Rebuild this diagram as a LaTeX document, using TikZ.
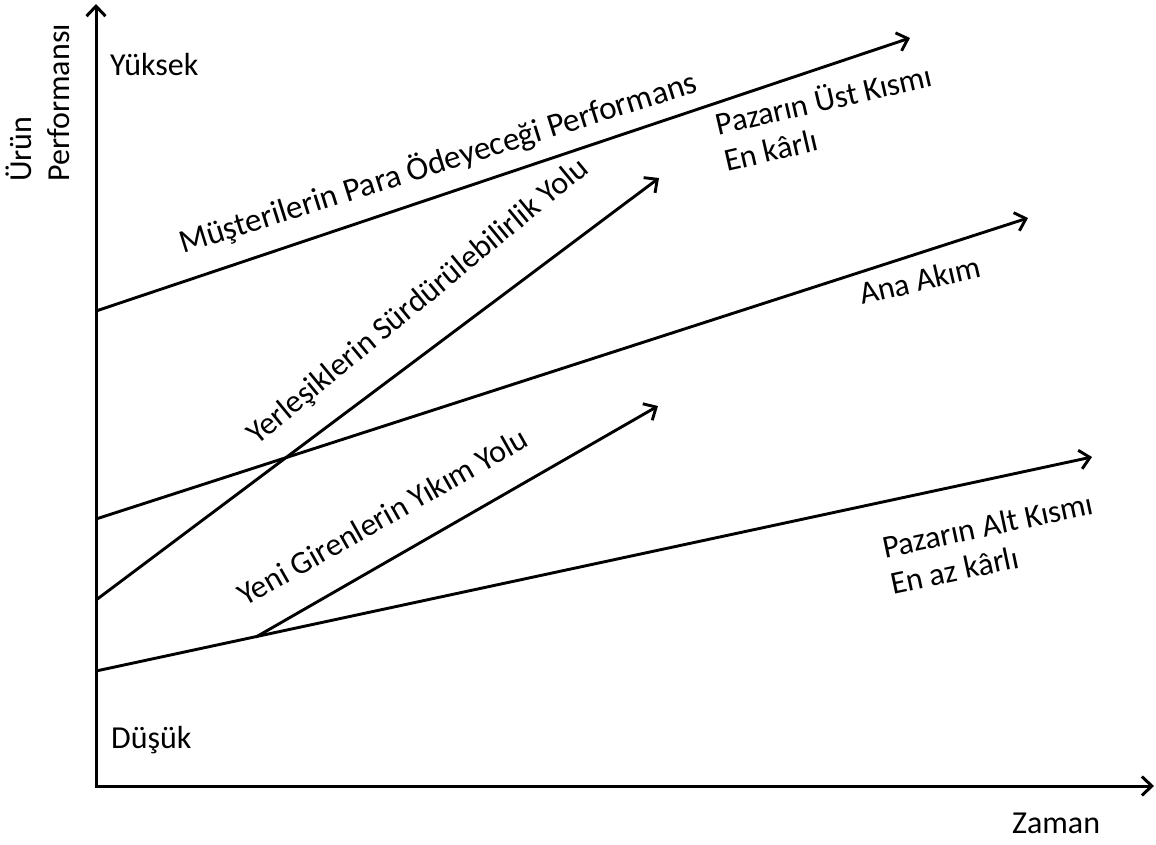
\documentclass[tikz,border=0pt]{standalone}
\usepackage{fontspec}
\setmainfont{Carlito}
\usetikzlibrary{arrows.meta}
\begin{document}
\begin{tikzpicture}[x=1pt,y=-1pt,
  axis/.style={line width=3pt,-{Straight Barb[length=10pt,width=19pt]}},
  trend/.style={line width=2.9pt,-{Straight Barb[length=10pt,width=19pt]}},
  lbl/.style={inner sep=0pt,font=\fontsize{32}{38}\selectfont}]
\useasboundingbox (0,0) rectangle (1156,844);
% axes
\coordinate (O) at (96,786);
\coordinate (ytop) at (96,4);
\coordinate (xend) at (1154,786);
\draw[axis] (O) -- (ytop);
\draw[axis] ([xshift=-1.5pt]O) -- (xend);
% start and end points of the trend lines
\coordinate (paystart) at (96,311);
\coordinate (payend) at (910,38);
\coordinate (susstart) at (96,600);
\coordinate (susend) at (659,178);
\coordinate (mainstart) at (96,519);
\coordinate (mainend) at (1028,218);
\coordinate (lowstart) at (96,671);
\coordinate (lowend) at (1092,457);
\coordinate (disstart) at (256,637);
\coordinate (disend) at (658,406);
\draw[trend] (paystart) -- (payend);
\draw[trend] (susstart) -- (susend);
\draw[trend] (mainstart) -- (mainend);
\draw[trend] (lowstart) -- (lowend);
\draw[trend] (disstart) -- (disend);
% axis labels
\node[lbl,anchor=base west] (high) at (110,75) {Yüksek};
\node[lbl,anchor=base west] (low) at (111,748) {Düşük};
\node[lbl,anchor=base west] (time) at (1012,833) {Zaman};
\node[lbl,anchor=south west,rotate=90,align=left] (perf) at (70,182) {Ürün\\Performansı};
% line labels
\node[lbl,anchor=base west,rotate=17.5,font=\fontsize{33}{38}\selectfont] (paylbl) at (183,254) {Müşterilerin Para Ödeyeceği Performans};
\node[lbl,anchor=base west,rotate=39.5] (suslbl) at (257,446) {Yerleşiklerin Sürdürülebilirlik Yolu};
\node[lbl,anchor=base west,rotate=29.5] (dislbl) at (245,607) {Yeni Girenlerin Yıkım Yolu};
\node[lbl,anchor=base west,rotate=13] (mainlbl) at (862,305) {Ana Akım};
\node[lbl,anchor=south west,rotate=13,align=left,font=\fontsize{32}{37}\selectfont] (toplbl) at (727,172) {Pazarın Üst Kısmı\\En kârlı};
\node[lbl,anchor=south west,rotate=12,align=left,font=\fontsize{32}{37}\selectfont] (botlbl) at (893,595) {Pazarın Alt Kısmı\\En az kârlı};
\end{tikzpicture}
\end{document}
